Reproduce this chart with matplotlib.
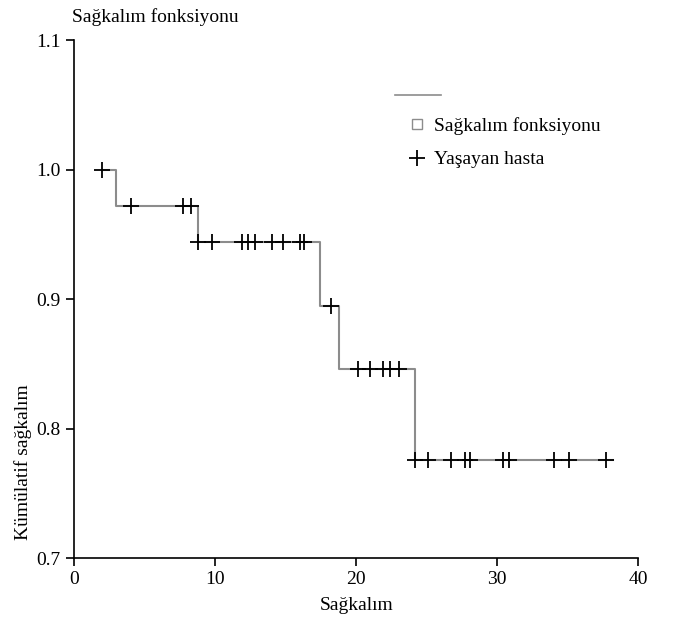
import numpy as np
import matplotlib
matplotlib.use("Agg")
import matplotlib.pyplot as plt
from matplotlib.lines import Line2D

# Kaplan-Meier step: times where the curve drops, and level after each drop
event_times = [2.0, 3.0, 8.8, 17.4, 18.8, 24.2]
surv_levels = [1.0, 0.972, 0.944, 0.895, 0.846, 0.776]
end_time = 38.2

# censored (alive) patients
censor_times = [2.0, 4.0, 7.7, 8.3, 8.8, 9.8, 11.9, 12.3, 12.8, 14.0, 14.8,
                16.0, 16.3, 18.2, 20.1, 21.0, 21.9, 22.4, 23.0, 24.2, 25.1,
                26.7, 27.7, 28.1, 30.4, 30.8, 34.0, 35.1, 37.7]

plt.rcParams["font.family"] = ["Liberation Serif", "DejaVu Serif"]
plt.rcParams["font.size"] = 14

fig = plt.figure(figsize=(6.74, 6.19), dpi=100)
ax = fig.add_axes([0.110, 0.0985, 0.837, 0.8365])

xs = event_times + [end_time]
ys = surv_levels + [surv_levels[-1]]
ax.step(xs, ys, where="post", color="#8c8c8c", lw=1.5, zorder=2)

idx = np.searchsorted(event_times, censor_times, side="right") - 1
cy = np.array(surv_levels)[idx]
ax.plot(censor_times, cy, linestyle="none", marker="+", color="black",
        ms=12, mew=1.3, zorder=3)

ax.set_xlim(0, 40)
ax.set_ylim(0.7, 1.1)
ax.set_xticks([0, 10, 20, 30, 40])
ax.set_yticks([0.7, 0.8, 0.9, 1.0, 1.1])
ax.set_yticklabels(["0.7", "0.8", "0.9", "1.0", "1.1"])
for s in ["top", "right"]:
    ax.spines[s].set_visible(False)
for s in ["left", "bottom"]:
    ax.spines[s].set_linewidth(1.2)
ax.tick_params(direction="out", length=6, width=1.2, labelsize=14)

ax.set_xlabel("Sağkalım", fontsize=14, labelpad=6)
ax.set_ylabel("Kümülatif sağkalım", fontsize=14)
ax.yaxis.set_label_coords(-0.074, 0.185)
fig.text(0.107, 0.972, "Sağkalım fonksiyonu", fontsize=14, ha="left", va="center")

# legend
ax.add_line(Line2D([0.569, 0.651], [0.894, 0.894], transform=ax.transAxes,
                   color="#8c8c8c", lw=1.2))
handles = [
    Line2D([], [], linestyle="none", marker="s", ms=7, mfc="white",
           mec="#8c8c8c", mew=1.0),
    Line2D([], [], linestyle="none", marker="+", ms=12, color="black", mew=1.3),
]
ax.legend(handles, ["Sağkalım fonksiyonu", "Yaşayan hasta"],
          loc="upper left", bbox_to_anchor=(0.593, 0.851), frameon=False,
          handlelength=0.9, handletextpad=0.4, labelspacing=0.8,
          borderaxespad=0, borderpad=0, fontsize=14)

fig.savefig("out.png", dpi=100)
